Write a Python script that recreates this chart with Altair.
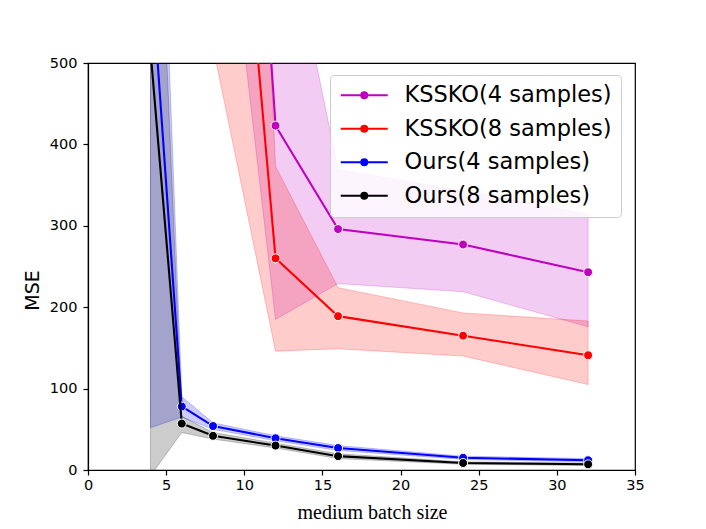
import altair as alt
import pandas as pd

series_names = ["KSSKO(4 samples)", "KSSKO(8 samples)", "Ours(4 samples)", "Ours(8 samples)"]
series_colors = ["#bf00bf", "#ff0000", "#0000ff", "#000000"]

x_kssko = [8, 12, 16, 24, 32]
kssko4_mean = [1560, 423, 296, 277, 243]
kssko4_lo = [849, 185, 229, 219, 176]
kssko4_hi = [2500, 743, 369, 343, 314]
kssko8_mean = [1130, 260, 189, 165, 141]
kssko8_lo = [520, 146, 149, 140, 105]
kssko8_hi = [2065, 373, 224, 193, 183]

x_ours = [4, 6, 8, 12, 16, 24, 32]
ours4_mean = [626, 78, 54, 39, 27, 15, 12]
ours4_lo = [52, 65, 50, 36, 24, 13, 10]
ours4_hi = [1113, 90, 58, 42, 30, 17, 14]
ours8_mean = [515, 57, 42, 30, 17, 8.6, 7]
ours8_lo = [-7, 46, 38, 27, 14, 7, 5.5]
ours8_hi = [980, 66, 46, 33, 20, 10, 8.5]

x_ticks = [0, 5, 10, 15, 20, 25, 30, 35]
y_ticks = [0, 100, 200, 300, 400, 500]

groups = [
    (series_names[0], x_kssko, kssko4_mean, kssko4_lo, kssko4_hi),
    (series_names[1], x_kssko, kssko8_mean, kssko8_lo, kssko8_hi),
    (series_names[2], x_ours, ours4_mean, ours4_lo, ours4_hi),
    (series_names[3], x_ours, ours8_mean, ours8_lo, ours8_hi),
]
rows = []
for name, xs, m, lo, hi in groups:
    for i in range(len(xs)):
        rows.append({"series": name, "x": xs[i], "y": m[i], "lo": lo[i], "hi": hi[i]})
df = pd.DataFrame(rows)

color_scale = alt.Scale(domain=series_names, range=series_colors)
x_scale = alt.Scale(domain=[0, 35], nice=False, zero=False)
y_scale = alt.Scale(domain=[0, 500], nice=False)

x_axis = alt.Axis(values=x_ticks, title="medium batch size", grid=False, labelFlush=False,
                  labelPadding=3,
                  titleFont="Liberation Serif", titleFontSize=20, titleFontWeight="normal",
                  titleColor="black", titleX=284, titleY=48, titleBaseline="alphabetic",
                  titleAlign="center")
y_axis = alt.Axis(values=y_ticks, title="MSE", grid=False, labelFlush=False,
                  labelPadding=6,
                  titleFont="DejaVu Sans", titleFontSize=19, titleFontWeight="normal",
                  titleColor="black", titleX=-56, titleY=227, titleAngle=270,
                  titleAlign="center", titleBaseline="middle")


def ring(r):
    return f"M{r},0A{r},{r},0,1,1,-{r},0A{r},{r},0,1,1,{r},0Z"


# legend glyph: a line with a solid dot (dot built from concentric stroked rings)
legend_symbol = "M-2.94,0L2.94,0" + "".join(ring(r) for r in [0.0625, 0.1875, 0.3125, 0.375])
legend = alt.Legend(
    title=None, orient="none", legendX=242, legendY=12,
    symbolType=legend_symbol, symbolSize=256, symbolStrokeWidth=2,
    symbolOffset=14, labelOffset=29, padding=9, rowPadding=10.5,
    symbolOpacity=1,
    fillColor="rgba(255,255,255,0.8)", strokeColor="#cccccc", cornerRadius=4,
    labelFont="DejaVu Sans", labelFontSize=22.5, labelColor="black", labelLimit=400,
)

base = alt.Chart(df)
X = alt.X("x:Q", scale=x_scale, axis=x_axis)

layers = []
for name, col in zip(series_names, series_colors):
    sub = base.transform_filter(alt.datum.series == name)
    band = sub.mark_area(clip=True, fillOpacity=0.2, strokeOpacity=0.22, strokeWidth=1).encode(
        x=X,
        y=alt.Y("lo:Q", scale=y_scale, axis=y_axis),
        y2="hi:Q",
        fill=alt.value(col),
        stroke=alt.value(col),
    )
    layers.append(band)

for name, col in zip(series_names, series_colors):
    sub = base.transform_filter(alt.datum.series == name)
    line = sub.mark_line(clip=True, strokeWidth=2.1).encode(
        x=X,
        y=alt.Y("y:Q", scale=y_scale, axis=y_axis),
        stroke=alt.Stroke("series:N", scale=color_scale, legend=legend),
    )
    pts = sub.mark_circle(clip=True, size=80, opacity=1, stroke="white", strokeWidth=1).encode(
        x=X,
        y=alt.Y("y:Q", scale=y_scale, axis=y_axis),
        fill=alt.value(col),
    )
    layers += [line, pts]

chart = alt.layer(*layers).properties(
    width=547, height=407,
    autosize=alt.AutoSizeParams(type="none"),
    padding={"left": 80, "top": 55, "right": 63, "bottom": 51},
).configure_view(
    stroke="black", strokeWidth=1.2
).configure_axis(
    labelFont="DejaVu Sans", labelFontSize=14.5, labelColor="black",
    tickColor="black", tickSize=5, tickWidth=1.2,
    domainColor="black", domainWidth=1.2,
)

chart.save("out.html", embed_options={"renderer": "svg", "actions": False})
